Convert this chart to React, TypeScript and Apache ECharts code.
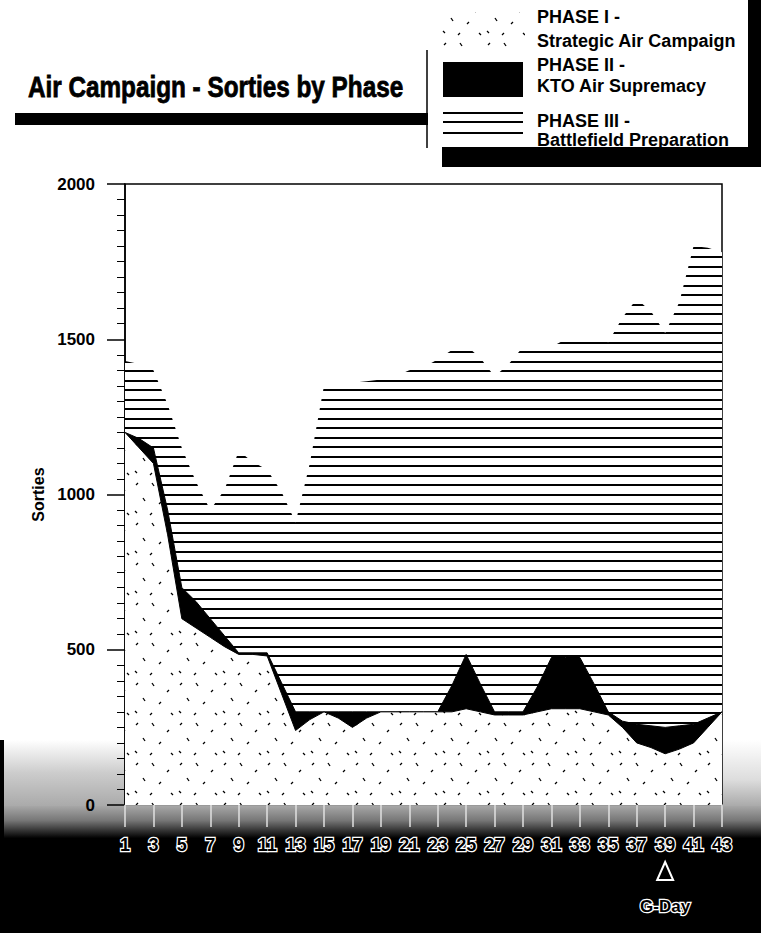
import { useEffect, useRef } from 'react';
import * as echarts from 'echarts';

// Day of the air campaign (x-axis categories)
const days = [
  '1', '2', '3', '4', '5', '6', '7', '8', '9', '10', '11', '12', '13', '14', '15',
  '16', '17', '18', '19', '20', '21', '22', '23', '24', '25', '26', '27', '28', '29',
  '30', '31', '32', '33', '34', '35', '36', '37', '38', '39', '40', '41', '42', '43',
];

// Upper boundary of each phase band (cumulative sorties)
const phase1Top = [
  1200, 1150, 1100, 870, 600, 570, 540, 510, 485, 485, 480, 360, 240, 275, 300,
  280, 250, 280, 300, 300, 300, 300, 300, 300, 310, 300, 290, 290, 290,
  300, 310, 310, 310, 300, 290, 250, 200, 185, 165, 180, 200, 250, 300,
];
const phase2Top = [
  1200, 1180, 1150, 950, 700, 655, 600, 545, 490, 490, 490, 395, 300, 300, 300,
  300, 300, 300, 300, 300, 300, 300, 300, 385, 485, 390, 300, 300, 300,
  380, 475, 475, 475, 390, 300, 270, 260, 255, 250, 255, 260, 280, 300,
];
const phase3Top = [
  1430, 1420, 1400, 1290, 1150, 1040, 950, 1015, 1140, 1105, 1080, 1010, 910, 1100, 1350,
  1355, 1360, 1365, 1370, 1380, 1400, 1410, 1435, 1465, 1480, 1440, 1380, 1420, 1475,
  1475, 1475, 1500, 1505, 1500, 1490, 1570, 1630, 1590, 1520, 1620, 1800, 1795, 1780,
];

const yTicks = [0, 500, 1000, 1500, 2000];

const TITLE = 'Air Campaign - Sorties by Phase';
const legendItems = [
  ['PHASE I -', 'Strategic Air Campaign'],
  ['PHASE II -', 'KTO Air Supremacy'],
  ['PHASE III -', 'Battlefield Preparation'],
];
const seriesNames = ['Phase III', 'Phase II', 'Phase I'];
const G_DAY = '39';
const G_DAY_LABEL = 'G-Day';

const FONT = "'Liberation Sans', Arial, sans-serif";

function linesPattern(): string {
  const c = document.createElement('canvas');
  c.width = 40;
  c.height = 19;
  const ctx = c.getContext('2d')!;
  ctx.fillStyle = '#fff';
  ctx.fillRect(0, 0, 40, 19);
  ctx.fillStyle = '#000';
  ctx.fillRect(0, 0, 40, 2);
  ctx.fillRect(0, 9, 40, 2);
  return c.toDataURL();
}

function dotsPattern(): string {
  const c = document.createElement('canvas');
  c.width = 44;
  c.height = 40;
  const ctx = c.getContext('2d')!;
  ctx.fillStyle = '#fff';
  ctx.fillRect(0, 0, 44, 40);
  ctx.strokeStyle = '#000';
  ctx.lineWidth = 1.3;
  const marks: [number, number, number, number][] = [
    [4, 5, 6, 3], [20, 3, 22, 6], [35, 12, 37, 10], [11, 18, 13, 21],
    [27, 24, 29, 22], [3, 31, 5, 33], [39, 33, 41, 35], [18, 35, 20, 33],
  ];
  marks.forEach(([x1, y1, x2, y2]) => {
    ctx.beginPath();
    ctx.moveTo(x1, y1);
    ctx.lineTo(x2, y2);
    ctx.stroke();
  });
  return c.toDataURL();
}

export default function App() {
  const ref = useRef<HTMLDivElement>(null);

  useEffect(() => {
    if (!ref.current) return;
    const chart = echarts.init(ref.current, null, { renderer: 'svg' });
    const linePat = { image: linesPattern(), imageWidth: 40, imageHeight: 19, repeat: 'repeat' };
    const dotPat = { image: dotsPattern(), imageWidth: 44, imageHeight: 40, repeat: 'repeat' };

    const option: any = {
      animation: false,
      backgroundColor: '#fff',
      textStyle: { fontFamily: FONT },
      grid: {
        left: 125, right: 39, top: 184, bottom: 128,
        show: true, borderColor: '#000', borderWidth: 1.5, backgroundColor: '#fff',
      },
      xAxis: {
        type: 'category',
        data: days,
        boundaryGap: false,
        axisLine: { lineStyle: { color: '#999', width: 2 } },
        axisTick: { show: true, interval: 1, length: 22, lineStyle: { color: '#e0e0e0', width: 1.5 } },
        axisLabel: {
          interval: 1, margin: 31, fontSize: 18, fontWeight: 'bold', fontFamily: FONT,
          color: '#000', textBorderColor: '#fff', textBorderWidth: 2.5,
        },
        splitLine: { show: false },
      },
      yAxis: {
        type: 'value',
        min: yTicks[0],
        max: yTicks[yTicks.length - 1],
        interval: 500,
        name: 'Sorties',
        nameLocation: 'middle',
        nameGap: 52,
        nameTextStyle: { fontSize: 16, fontWeight: 'bold', color: '#000', fontFamily: FONT },
        axisLine: { show: true, lineStyle: { color: '#000', width: 1.5 } },
        axisTick: { show: true, length: 18, lineStyle: { color: '#000', width: 1.5 } },
        minorTick: { show: true, splitNumber: 10, length: 8, lineStyle: { color: '#000', width: 1 } },
        axisLabel: {
          margin: 30, fontSize: 17, fontWeight: 'bold', color: '#000', fontFamily: FONT,
          formatter: (v: number) => String(v),
        },
        splitLine: { show: false },
      },
      series: [
        {
          name: seriesNames[0], type: 'line', data: phase3Top, symbol: 'none', z: 2,
          lineStyle: { width: 0 }, areaStyle: { color: linePat, opacity: 1 },
        },
        {
          name: seriesNames[1], type: 'line', data: phase2Top, symbol: 'none', z: 3,
          lineStyle: { width: 1, color: '#000' }, areaStyle: { color: '#000', opacity: 1 },
        },
        {
          name: seriesNames[2], type: 'line', data: phase1Top, symbol: 'none', z: 4,
          lineStyle: { width: 1, color: '#000' }, areaStyle: { color: dotPat, opacity: 1 },
        },
      ],
    };
    chart.setOption(option);

    const gx = chart.convertToPixel({ xAxisIndex: 0 }, G_DAY) as number;

    const legendText = (t: string, y: number) => ({
      type: 'text', x: 537, y,
      style: { text: t, fontSize: 18, fontWeight: 'bold', fontFamily: FONT, fill: '#000', verticalAlign: 'middle' },
    });

    chart.setOption({
      graphic: [
        // bottom dark backdrop
        { type: 'rect', z: -1, shape: { x: 0, y: 805, width: 761, height: 128 },
          style: { fill: new echarts.graphic.LinearGradient(0, 0, 0, 1, [
            { offset: 0, color: '#aaa' }, { offset: 0.12, color: '#777' },
            { offset: 0.22, color: '#222' }, { offset: 0.26, color: '#000' }, { offset: 1, color: '#000' }]) } },
        { type: 'rect', z: -1, shape: { x: 0, y: 740, width: 124, height: 66 },
          style: { fill: new echarts.graphic.LinearGradient(0, 0, 0, 1, [
            { offset: 0, color: '#fff' }, { offset: 0.5, color: '#ccc' }, { offset: 1, color: '#aaa' }]) } },
        { type: 'rect', z: -1, shape: { x: 722, y: 740, width: 39, height: 66 },
          style: { fill: new echarts.graphic.LinearGradient(0, 0, 0, 1, [
            { offset: 0, color: '#fff' }, { offset: 0.6, color: '#ddd' }, { offset: 1, color: '#aaa' }]) } },
        { type: 'rect', z: -1, shape: { x: 0, y: 740, width: 4, height: 193 }, style: { fill: '#000' } },
        // title + bar
        { type: 'text', x: 28, y: 87, scaleX: 0.81,
          style: { text: TITLE, fontSize: 30, fontWeight: 'bold', fontFamily: FONT, fill: '#000',
            stroke: '#000', lineWidth: 0.8, verticalAlign: 'middle' } },
        { type: 'rect', shape: { x: 15, y: 113, width: 413, height: 12 }, style: { fill: '#000' } },
        // legend box
        { type: 'line', shape: { x1: 427, y1: 50, x2: 427, y2: 148 }, style: { stroke: '#000', lineWidth: 1.5 } },
        { type: 'rect', shape: { x: 748, y: 0, width: 13, height: 167 }, style: { fill: '#000' } },
        { type: 'rect', shape: { x: 442, y: 147, width: 319, height: 20 }, style: { fill: '#000' } },
        { type: 'rect', shape: { x: 440, y: 12, width: 85, height: 36 }, style: { fill: dotPat } },
        { type: 'rect', shape: { x: 443, y: 62, width: 80, height: 35 }, style: { fill: '#000' } },
        { type: 'line', shape: { x1: 443, y1: 113, x2: 523, y2: 113 }, style: { stroke: '#000', lineWidth: 2 } },
        { type: 'line', shape: { x1: 443, y1: 122, x2: 523, y2: 122 }, style: { stroke: '#000', lineWidth: 2 } },
        { type: 'line', shape: { x1: 443, y1: 133, x2: 523, y2: 133 }, style: { stroke: '#000', lineWidth: 2 } },
        legendText(legendItems[0][0], 17),
        legendText(legendItems[0][1], 41),
        legendText(legendItems[1][0], 65),
        legendText(legendItems[1][1], 86),
        legendText(legendItems[2][0], 121),
        legendText(legendItems[2][1], 140),
        // G-Day marker
        { type: 'polygon', z: 10, shape: { points: [[gx, 862], [gx - 8, 880], [gx + 8, 880]] },
          style: { fill: '#000', stroke: '#fff', lineWidth: 2 } },
        { type: 'text', z: 10, x: gx, y: 906,
          style: { text: G_DAY_LABEL, fontSize: 17, fontWeight: 'bold', fontFamily: FONT, fill: '#000',
            stroke: '#fff', lineWidth: 2.5, align: 'center', verticalAlign: 'middle' } },
      ],
    });

    return () => chart.dispose();
  }, []);

  return <div ref={ref} style={{ position: 'fixed', left: 0, top: 0, width: 761, height: 933 }} />;
}
